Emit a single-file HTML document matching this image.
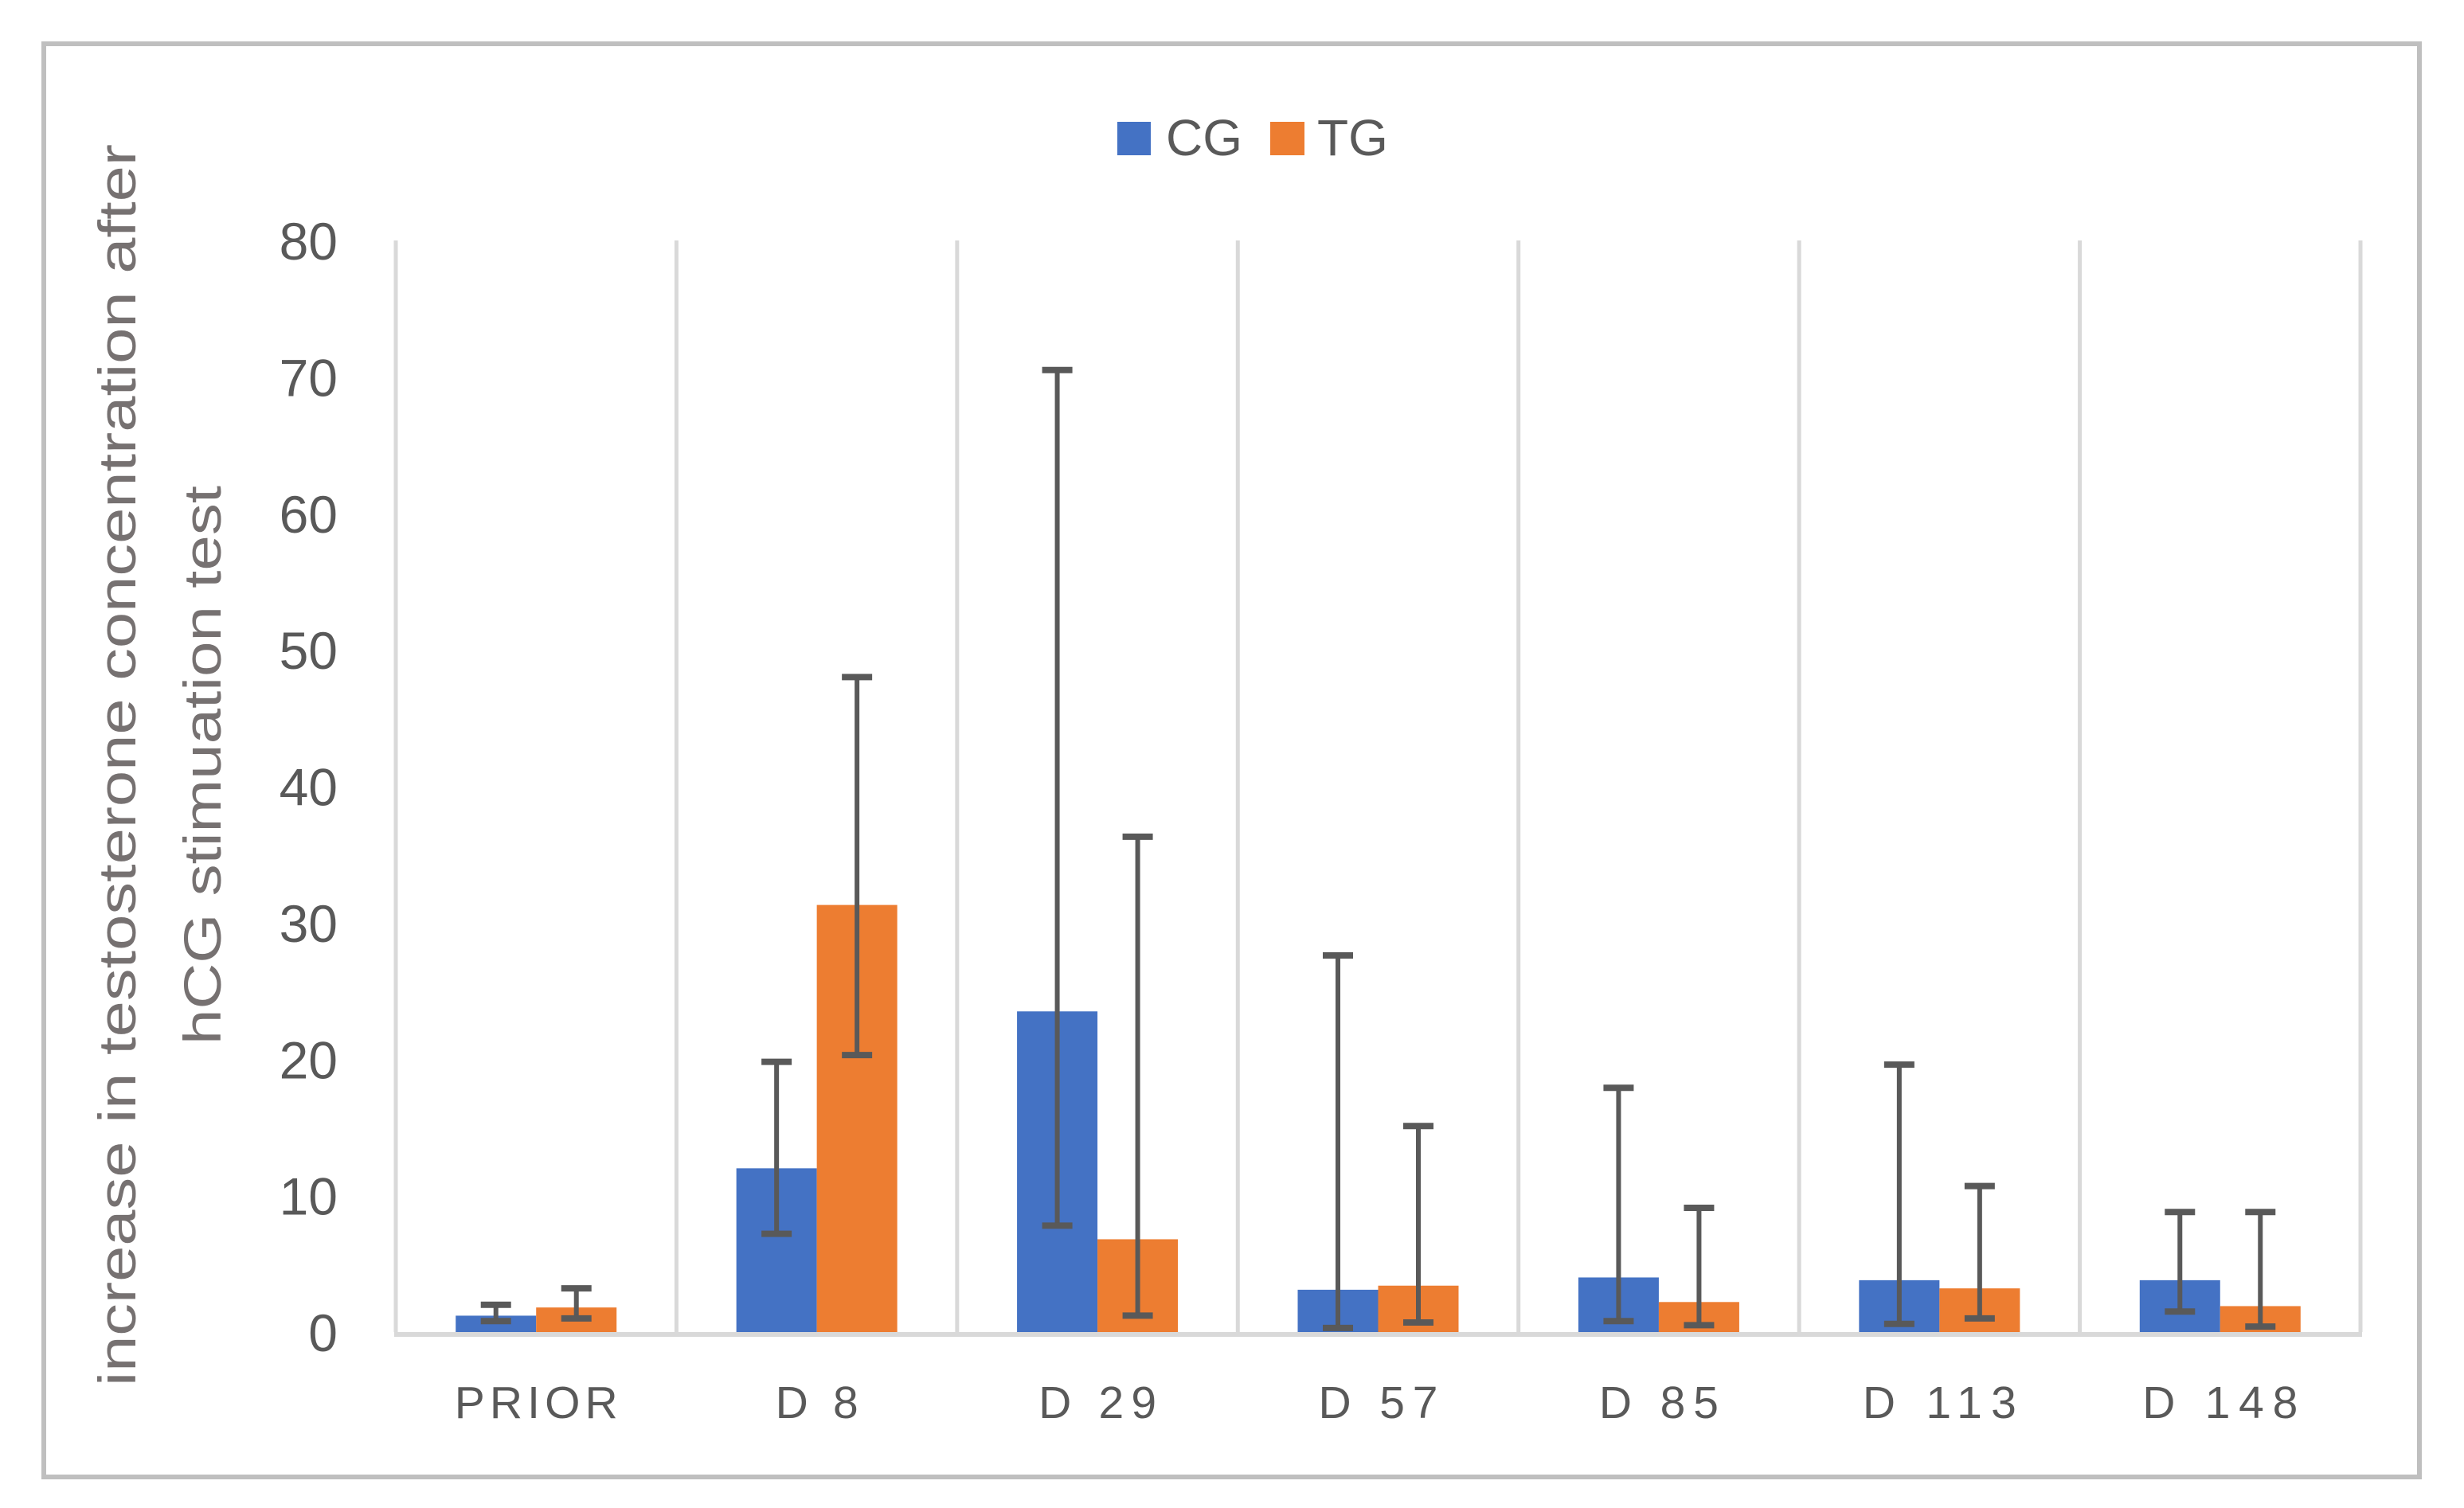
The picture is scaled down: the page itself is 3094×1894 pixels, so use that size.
<!DOCTYPE html>
<html><head><meta charset="utf-8"><style>
html,body{margin:0;padding:0;background:#fff}
svg{display:block;font-family:"Liberation Sans",sans-serif}
</style></head><body>
<svg id="chart" width="3094" height="1894" viewBox="0 0 3094 1894" xmlns="http://www.w3.org/2000/svg">
<rect x="55" y="55" width="2983" height="1800" fill="#fff" stroke="#bfbfbf" stroke-width="6"/>
<g id="grid"></g>
<g id="bars"></g>
<g id="errs"></g>
<g id="yticks"></g>
<g id="xlabels"></g>
<g fill="#767171" font-size="66">
<text transform="translate(170,961) rotate(-90)" text-anchor="middle" textLength="1560" lengthAdjust="spacingAndGlyphs">increase in testosterone concentration after</text>
<text transform="translate(277,961) rotate(-90)" text-anchor="middle" textLength="702" lengthAdjust="spacingAndGlyphs">hCG stimuation test</text>
</g>
<g font-size="64" fill="#595959">
<rect x="1403" y="153" width="42" height="42" fill="#4472c4"/>
<text x="1464" y="195">CG</text>
<rect x="1595" y="153" width="43" height="42" fill="#ed7d31"/>
<text x="1654" y="195">TG</text>
</g>
</svg>
<script>
const categories = ["PRIOR", "D 8", "D 29", "D 57", "D 85", "D 113", "D 148"];
const cgValues = [1.2, 12, 23.5, 3.1, 4.0, 3.8, 3.8];
const tgValues = [1.8, 31.3, 6.8, 3.4, 2.2, 3.2, 1.9];
const cgLow = [0.8, 7.2, 7.8, 0.3, 0.8, 0.6, 1.5];
const cgHigh = [2.0, 19.8, 70.5, 27.6, 17.9, 19.6, 8.8];
const tgLow = [1.0, 20.3, 1.2, 0.7, 0.5, 1.0, 0.4];
const tgHigh = [3.2, 48, 36.3, 15.1, 9.1, 10.7, 8.8];
const yTicks = [0, 10, 20, 30, 40, 50, 60, 70, 80];
const labelWidths = [205, 104, 148, 150, 150, 193, 195];

const NS = "http://www.w3.org/2000/svg";
const plotLeft = 497, plotRight = 2964, plotTop = 302, plotBottom = 1673, yMax = 80;
const catW = (plotRight - plotLeft) / categories.length;
const barW = 101;
const yScale = v => plotBottom - (v / yMax) * (plotBottom - plotTop);
const xCat = i => plotLeft + i * catW;
function mk(tag, attrs, parent) {
  const e = document.createElementNS(NS, tag);
  for (const k in attrs) e.setAttribute(k, attrs[k]);
  parent.appendChild(e);
  return e;
}
const grid = document.getElementById('grid');
for (let i = 0; i <= categories.length; i++) {
  const l = mk('line', {x1: xCat(i), x2: xCat(i), y1: plotTop, y2: plotBottom, stroke: '#d9d9d9', 'stroke-width': 5}, grid);
  
  
}
const ax = mk('line', {x1: plotLeft - 2, x2: plotRight + 2, y1: plotBottom + 3, y2: plotBottom + 3, stroke: '#d9d9d9', 'stroke-width': 6}, grid);



const bars = document.getElementById('bars'), errs = document.getElementById('errs');
function errBar(cx, lo, hi) {
  const g = mk('g', {stroke: '#595959', 'stroke-width': 6}, errs);
  
  
  mk('line', {x1: cx, x2: cx, y1: yScale(lo), y2: yScale(hi)}, g);
  mk('line', {x1: cx - 19, x2: cx + 19, y1: yScale(lo), y2: yScale(lo), 'stroke-width': 8}, g);
  mk('line', {x1: cx - 19, x2: cx + 19, y1: yScale(hi), y2: yScale(hi), 'stroke-width': 8}, g);
}
categories.forEach((c, i) => {
  const x0 = xCat(i) + (catW - 2 * barW) / 2;
  const b1 = mk('rect', {x: x0, y: yScale(cgValues[i]), width: barW, height: plotBottom - yScale(cgValues[i]), fill: '#4472c4'}, bars);
  
  
  const b2 = mk('rect', {x: x0 + barW, y: yScale(tgValues[i]), width: barW, height: plotBottom - yScale(tgValues[i]), fill: '#ed7d31'}, bars);
  
  
  errBar(x0 + barW / 2, cgLow[i], cgHigh[i]);
  errBar(x0 + 1.5 * barW, tgLow[i], tgHigh[i]);
  const t = mk('text', {x: xCat(i) + catW / 2, y: 1781, 'text-anchor': 'middle', 'font-size': 57, fill: '#595959', textLength: labelWidths[i], lengthAdjust: 'spacing'}, document.getElementById('xlabels'));
  t.textContent = c;
  
  
});
const yt = document.getElementById('yticks');
yTicks.forEach(v => {
  const t = mk('text', {x: 424, y: yScale(v) + 24, 'text-anchor': 'end', 'font-size': 66, fill: '#595959'}, yt);
  t.textContent = v;
  
  
});
</script>
</body></html>
